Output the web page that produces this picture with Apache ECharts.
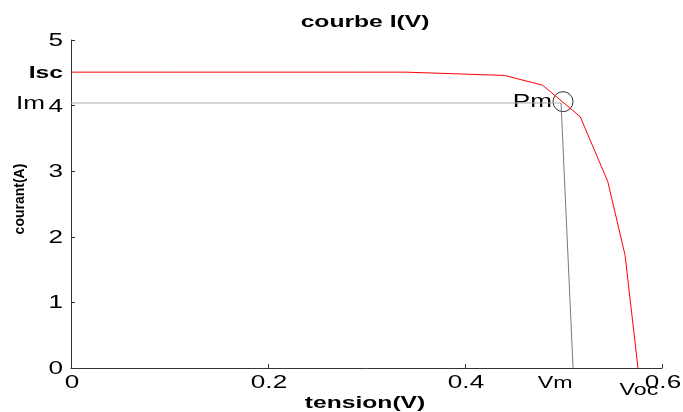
<!DOCTYPE html>
<html><head><meta charset="utf-8">
<script src="https://cdn.jsdelivr.net/npm/echarts@6/dist/echarts.min.js"></script>
<style>html,body{margin:0;padding:0;background:#fff}#c{width:683px;height:412px}</style>
</head><body><div id="c"></div>
<script>
const tension = [0, 0.1, 0.2, 0.3, 0.34, 0.44, 0.479, 0.517, 0.545, 0.5625, 0.5756];
const courant = [4.51, 4.51, 4.51, 4.51, 4.51, 4.46, 4.31, 3.83, 2.84, 1.72, 0];
const Isc = 4.51, Im = 4.04, Vm = 0.5097, Voc = 0.5756;
const Pm = [0.4995, 4.06];
const vmTop = [0.4975, 4.04];
const xTicks = [0, 0.2, 0.4, 0.6];
const yTicks = [0, 1, 2, 3, 4, 5];
const titleText = 'courbe I(V)';
const xName = 'tension(V)';
const yName = 'courant(A)';
const font = '"Liberation Sans", Arial, sans-serif';
const SX = 1.45;

const chart = echarts.init(document.getElementById('c'));
chart.setOption({
  backgroundColor: '#fff',
  animation: false,
  grid: { left: 71, right: 21, top: 40, bottom: 44 },
  xAxis: {
    type: 'value', min: 0, max: 0.6, interval: 0.2,
    axisLine: { lineStyle: { color: '#333', width: 1 } },
    axisTick: { inside: true, length: 4, lineStyle: { color: '#333' } },
    axisLabel: { show: false },
    splitLine: { show: false }
  },
  yAxis: {
    type: 'value', min: 0, max: 5, interval: 1,
    axisLine: { show: true, lineStyle: { color: '#333', width: 1 } },
    axisTick: { show: true, inside: true, length: 4, lineStyle: { color: '#333' } },
    axisLabel: { show: false },
    splitLine: { show: false }
  },
  series: [
    { type: 'line', data: [[0, Im], vmTop], symbol: 'none', lineStyle: { color: '#aaa', width: 1 }, silent: true },
    { type: 'line', data: [vmTop, [Vm, 0]], symbol: 'none', lineStyle: { color: '#777', width: 1 }, silent: true },
    { type: 'line', data: tension.map((t, i) => [t, courant[i]]), symbol: 'none', lineStyle: { color: '#ff0000', width: 1 } },
    { type: 'scatter', data: [Pm], symbol: 'circle', symbolSize: 20,
      itemStyle: { color: 'rgba(0,0,0,0)', borderColor: '#000', borderWidth: 1 } }
  ]
});

function txt(text, x, y, size, align, bold, rot, sx) {
  return {
    type: 'text', x: x, y: y, rotation: rot || 0, scaleX: sx === undefined ? SX : sx, scaleY: 1, silent: true,
    style: { text: text, x: 0, y: 0, font: (bold ? 'bold ' : '') + size + 'px ' + font,
      fill: '#000', align: align, verticalAlign: 'middle', textAlign: align, textVerticalAlign: 'middle' }
  };
}
const px = p => chart.convertToPixel({ gridIndex: 0 }, p);
const els = [];
els.push(txt(titleText, 365, 22, 17, 'center', true));
els.push(txt(xName, 365, 403, 17, 'center', true));
els.push(txt(yName, 20, 199, 14, 'center', true, Math.PI / 2, 1));
xTicks.forEach(v => { const p = px([v, 0]); els.push(txt(String(v), p[0] + 1, p[1] + 15, 18, 'center', false)); });
yTicks.forEach(v => { const p = px([0, v]); els.push(txt(String(v), p[0] - 8, p[1] + 1, 18, 'right', false)); });
{ const p = px([0, Isc]); els.push(txt('Isc', p[0] - 8, p[1] + 1, 17, 'right', true)); }
{ const p = px([0, Im]); els.push(txt('Im', p[0] - 26, p[1] + 1, 18, 'right', false)); }
{ const p = px(Pm); els.push(txt('Pm', p[0] - 11, p[1], 18, 'right', false)); }
{ const p = px([Vm, 0]); els.push(txt('Vm', p[0] - 18, p[1] + 16, 16, 'center', false)); }
{ const p = px([Voc, 0]); els.push(txt('Voc', p[0] + 1, p[1] + 23, 16, 'center', false)); }
chart.setOption({ graphic: { elements: els } });
</script></body></html>
